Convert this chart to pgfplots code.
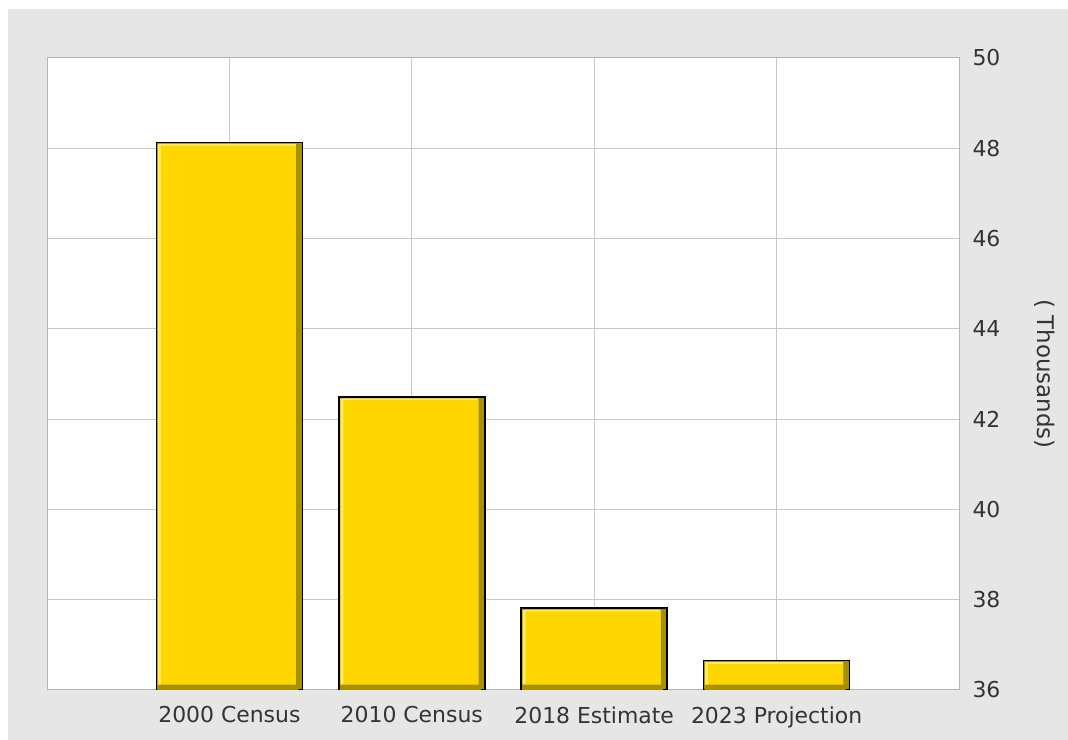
\documentclass[border=0pt]{standalone}
\usepackage{pgfplots}
\usepackage{pgfplotstable}
\pgfplotsset{compat=1.18}
\usepackage{fontspec}
\setmainfont{DejaVu Sans}
\definecolor{bggray}{HTML}{E6E6E6}
\definecolor{gridgray}{HTML}{C8C8C8}
\definecolor{bordergray}{HTML}{B4B4B4}
\definecolor{txt}{HTML}{333333}
\definecolor{gold}{HTML}{FFD700}
\definecolor{darkgold}{HTML}{A89000}
\definecolor{lightgold}{HTML}{FFE968}
\pgfplotstableread{
x v
0 48.13
1 42.49
2 37.81
3 36.65
}\data
\begin{document}
\begin{tikzpicture}[x=1bp,y=1bp]
\useasboundingbox (0,0) rectangle (1068,740);
\fill[white] (0,0) rectangle (1068,740);
\fill[bggray] (8,0) rectangle (1068,731);
\begin{axis}[
  at={(47bp,50bp)}, anchor=south west,
  scale only axis, width=912bp, height=632bp,
  xmin=-1, xmax=4, ymin=36, ymax=50,
  axis background/.style={fill=white},
  axis line style={bordergray, line width=1bp},
  grid=major, major grid style={gridgray, line width=1bp},
  xtick={0,1,2,3},
  xticklabels={2000 Census, 2010 Census, 2018 Estimate, 2023 Projection},
  ytick={36,38,...,50},
  yticklabel pos=right,
  major tick length=0pt,
  tick label style={font=\fontsize{22}{24}\selectfont, text=txt},
  yticklabel style={xshift=10bp},
  xticklabel style={yshift=-13bp},
  /pgf/number format/assume math mode=true,
  ylabel={\fontsize{23}{25}\selectfont ( Thousands)},
  every axis y label/.style={at={(axis description cs:1.0943,0.5)}, anchor=center, rotate=-90, text=txt},
  clip=true,
]
\addplot[ybar, bar width=146bp, bar shift=0bp, fill=darkgold, draw=black, line width=1.6bp] table[x=x,y=v]{\data};
\addplot[ybar, bar width=138bp, bar shift=-2.5bp, fill=lightgold, draw=none] table[x=x,y expr=\thisrow{v}-0.03]{\data};
\addplot[ybar, bar width=135bp, bar shift=-1bp, fill=gold, draw=none] table[x=x,y expr=\thisrow{v}-0.07]{\data};
\addplot[ybar, bar width=141bp, bar shift=-1.5bp, fill=darkgold, draw=none] coordinates {(0,36.12) (1,36.12) (2,36.12) (3,36.12)};
\end{axis}
\end{tikzpicture}
\end{document}
